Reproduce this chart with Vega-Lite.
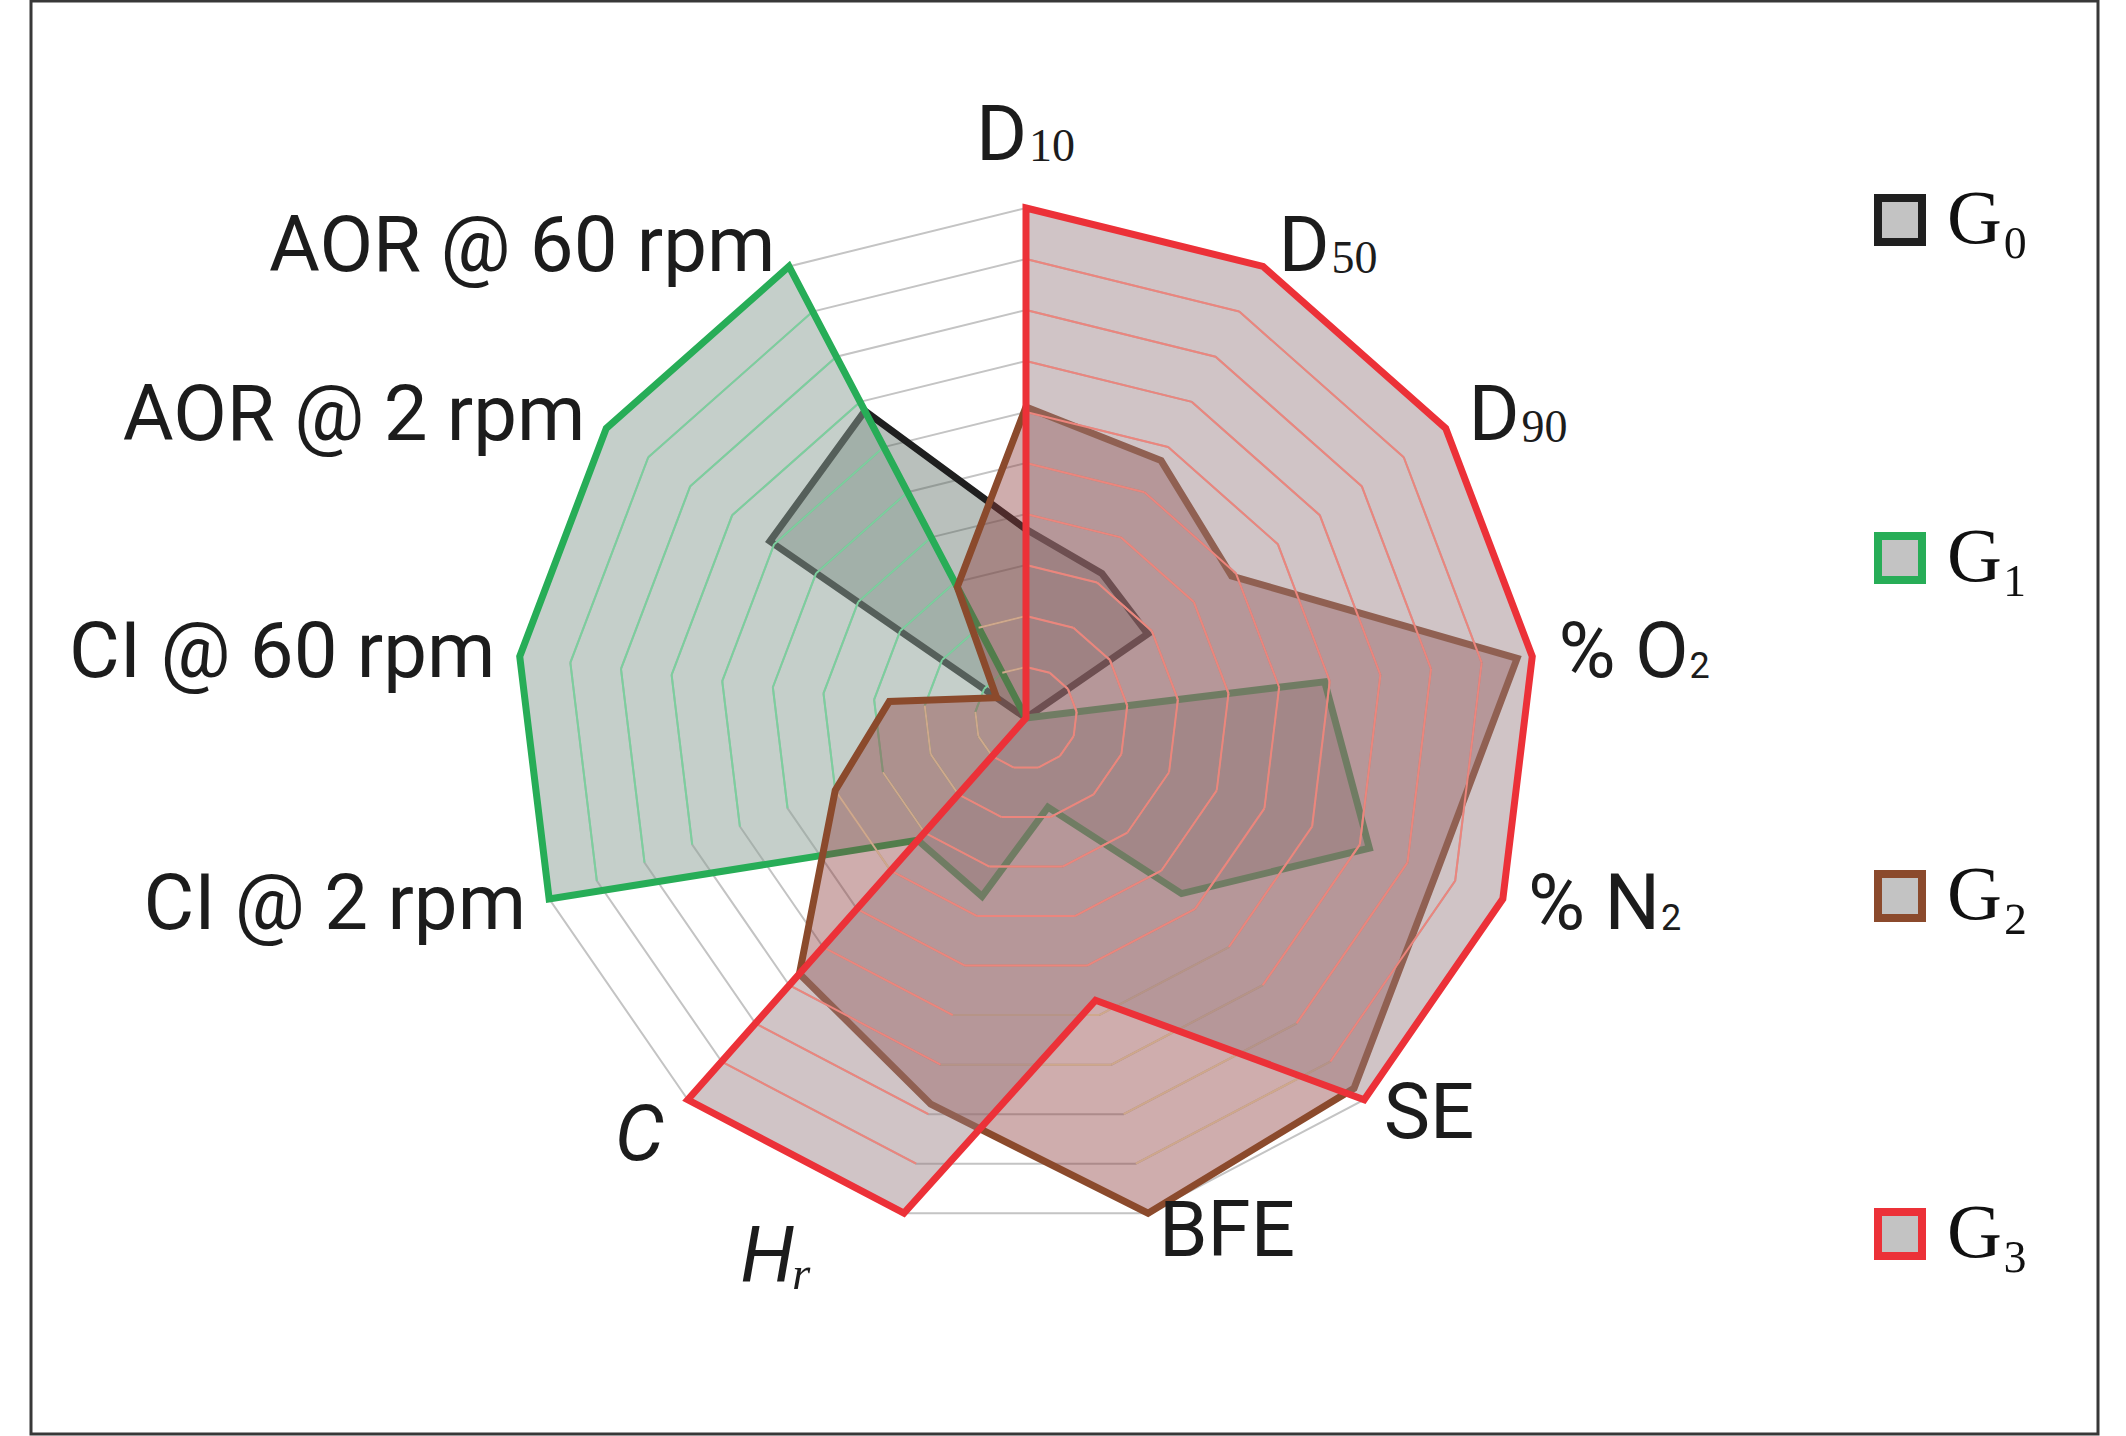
{
  "$schema": "https://vega.github.io/schema/vega-lite/v6.json",
  "width": 2067,
  "height": 1433,
  "autosize": {"type": "none"},
  "padding": {"left": 31, "top": 1, "right": 28, "bottom": 2},
  "background": "white",
  "config": {
    "view": {"stroke": "#383838", "strokeWidth": 3},
    "text": {"font": "Roboto", "fontSize": 78, "color": "#1c1c1c"}
  },
  "datasets": {
    "series": [
      {"g": "G₀", "s": 0, "k": 0, "v": 0.37}, {"g": "G₀", "s": 0, "k": 1, "v": 0.32}, {"g": "G₀", "s": 0, "k": 2, "v": 0.29},
      {"g": "G₀", "s": 0, "k": 3, "v": 0}, {"g": "G₀", "s": 0, "k": 4, "v": 0}, {"g": "G₀", "s": 0, "k": 5, "v": 0},
      {"g": "G₀", "s": 0, "k": 6, "v": 0}, {"g": "G₀", "s": 0, "k": 7, "v": 0}, {"g": "G₀", "s": 0, "k": 8, "v": 0},
      {"g": "G₀", "s": 0, "k": 9, "v": 0}, {"g": "G₀", "s": 0, "k": 10, "v": 0}, {"g": "G₀", "s": 0, "k": 11, "v": 0.61},
      {"g": "G₀", "s": 0, "k": 12, "v": 0.68},
      {"g": "G₁", "s": 1, "k": 0, "v": 0}, {"g": "G₁", "s": 1, "k": 1, "v": 0}, {"g": "G₁", "s": 1, "k": 2, "v": 0},
      {"g": "G₁", "s": 1, "k": 3, "v": 0.59}, {"g": "G₁", "s": 1, "k": 4, "v": 0.72}, {"g": "G₁", "s": 1, "k": 5, "v": 0.46},
      {"g": "G₁", "s": 1, "k": 6, "v": 0.18}, {"g": "G₁", "s": 1, "k": 7, "v": 0.36}, {"g": "G₁", "s": 1, "k": 8, "v": 0.32},
      {"g": "G₁", "s": 1, "k": 9, "v": 1}, {"g": "G₁", "s": 1, "k": 10, "v": 1}, {"g": "G₁", "s": 1, "k": 11, "v": 1},
      {"g": "G₁", "s": 1, "k": 12, "v": 1},
      {"g": "G₂", "s": 2, "k": 0, "v": 0.61}, {"g": "G₂", "s": 2, "k": 1, "v": 0.57}, {"g": "G₂", "s": 2, "k": 2, "v": 0.49},
      {"g": "G₂", "s": 2, "k": 3, "v": 0.97}, {"g": "G₂", "s": 2, "k": 4, "v": 0.86}, {"g": "G₂", "s": 2, "k": 5, "v": 0.97},
      {"g": "G₂", "s": 2, "k": 6, "v": 1.0}, {"g": "G₂", "s": 2, "k": 7, "v": 0.78}, {"g": "G₂", "s": 2, "k": 8, "v": 0.67},
      {"g": "G₂", "s": 2, "k": 9, "v": 0.40}, {"g": "G₂", "s": 2, "k": 10, "v": 0.27}, {"g": "G₂", "s": 2, "k": 11, "v": 0.07},
      {"g": "G₂", "s": 2, "k": 12, "v": 0.29},
      {"g": "G₃", "s": 3, "k": 0, "v": 1}, {"g": "G₃", "s": 3, "k": 1, "v": 1}, {"g": "G₃", "s": 3, "k": 2, "v": 1},
      {"g": "G₃", "s": 3, "k": 3, "v": 1}, {"g": "G₃", "s": 3, "k": 4, "v": 1}, {"g": "G₃", "s": 3, "k": 5, "v": 1},
      {"g": "G₃", "s": 3, "k": 6, "v": 0.57}, {"g": "G₃", "s": 3, "k": 7, "v": 1}, {"g": "G₃", "s": 3, "k": 8, "v": 1},
      {"g": "G₃", "s": 3, "k": 9, "v": 0}, {"g": "G₃", "s": 3, "k": 10, "v": 0}, {"g": "G₃", "s": 3, "k": 11, "v": 0},
      {"g": "G₃", "s": 3, "k": 12, "v": 0}
    ],
    "axes": [
      {"k": 0, "main": "D", "sub": "10"}, {"k": 1, "main": "D", "sub": "50"}, {"k": 2, "main": "D", "sub": "90"},
      {"k": 3, "main": "% O", "sub": "2"}, {"k": 4, "main": "% N", "sub": "2"}, {"k": 5, "main": "SE", "sub": ""},
      {"k": 6, "main": "BFE", "sub": ""}, {"k": 7, "main": "Hᵣ", "sub": ""}, {"k": 8, "main": "C", "sub": ""},
      {"k": 9, "main": "CI @ 2 rpm", "sub": ""}, {"k": 10, "main": "CI @ 60 rpm", "sub": ""},
      {"k": 11, "main": "AOR @ 2 rpm", "sub": ""}, {"k": 12, "main": "AOR @ 60 rpm", "sub": ""}
    ],
    "rings": [
      {"id": 1, "levels": [0.1, 0.2, 0.3, 0.4, 0.5, 0.6, 0.7, 0.8, 0.9, 1.0], "ks": [0, 1, 2, 3, 4, 5, 6, 7, 8, 9, 10, 11, 12]}
    ]
  },
  "encoding": {
    "x": {"field": "x", "type": "quantitative", "scale": {"domain": [-1.951, 2.102], "nice": false, "zero": false}, "axis": null},
    "y": {"field": "y", "type": "quantitative", "scale": {"domain": [-1.40392, 1.40588], "nice": false, "zero": false}, "axis": null}
  },
  "layer": [
    {
      "data": {"name": "rings"},
      "transform": [
        {"flatten": ["levels"]},
        {"flatten": ["ks"]},
        {"calculate": "datum.levels * sin(datum.ks * 2 * PI / 13)", "as": "x"},
        {"calculate": "datum.levels * cos(datum.ks * 2 * PI / 13)", "as": "y"}
      ],
      "mark": {"type": "line", "interpolate": "linear-closed", "stroke": "#c4c4c4", "strokeWidth": 2},
      "encoding": {
        "detail": {"field": "levels", "type": "nominal"},
        "order": {"field": "ks", "type": "quantitative"}
      }
    },
    {
      "data": {"name": "series"},
      "transform": [
        {"filter": "datum.s == 0"},
        {"calculate": "datum.v * sin(datum.k * 2 * PI / 13)", "as": "x"},
        {"calculate": "datum.v * cos(datum.k * 2 * PI / 13)", "as": "y"}
      ],
      "mark": {"type": "line", "interpolate": "linear-closed", "fill": "#4f6157", "fillOpacity": 0.4, "stroke": "transparent", "strokeWidth": 0},
      "encoding": {"order": {"field": "k", "type": "quantitative"}}
    },
    {
      "data": {"name": "series"},
      "transform": [
        {"filter": "datum.s == 0"},
        {"calculate": "datum.v * sin(datum.k * 2 * PI / 13)", "as": "x"},
        {"calculate": "datum.v * cos(datum.k * 2 * PI / 13)", "as": "y"}
      ],
      "mark": {"type": "line", "interpolate": "linear-closed", "strokeWidth": 7, "strokeJoin": "miter"},
      "encoding": {
        "order": {"field": "k", "type": "quantitative"},
        "stroke": {
          "field": "g", "type": "nominal",
          "scale": {"domain": ["G₀", "G₁", "G₂", "G₃"], "range": ["#1f1f1f", "#27ad57", "#8b4a2c", "#ec3138"]},
          "legend": {
            "orient": "none", "legendX": 1831, "legendY": 181, "direction": "vertical", "title": null,
            "symbolType": "square", "symbolSize": 1936, "symbolStrokeWidth": 8, "symbolFillColor": "#c3c3c3",
            "labelFont": "Liberation Serif", "labelFontSize": 76, "labelColor": "#111111",
            "rowPadding": 262, "labelOffset": 9,
            "encode": {"symbols": {"enter": {"fill": {"value": "#c3c3c3"}, "fillOpacity": {"value": 1}}, "update": {"fill": {"value": "#c3c3c3"}, "fillOpacity": {"value": 1}, "strokeWidth": {"value": 8}}}}
          }
        }
      }
    },
    {
      "data": {"name": "series"},
      "transform": [
        {"filter": "datum.s == 1"},
        {"calculate": "datum.v * sin(datum.k * 2 * PI / 13)", "as": "x"},
        {"calculate": "datum.v * cos(datum.k * 2 * PI / 13)", "as": "y"}
      ],
      "mark": {"type": "line", "interpolate": "linear-closed", "fill": "#8ca096", "fillOpacity": 0.5, "stroke": "transparent", "strokeWidth": 0},
      "encoding": {"order": {"field": "k", "type": "quantitative"}}
    },
    {
      "data": {"name": "series"},
      "transform": [
        {"window": [{"op": "lead", "field": "v", "as": "vn"}, {"op": "first_value", "field": "v", "as": "v0"}], "groupby": ["s"], "sort": [{"field": "k", "order": "ascending"}], "frame": [null, null]},
        {"filter": "datum.s == 1"},
        {"calculate": "min(datum.v, datum.vn == null ? datum.v0 : datum.vn)", "as": "m"},
        {"calculate": "1", "as": "one"},
        {"lookup": "one", "from": {"data": {"name": "rings"}, "key": "id", "fields": ["levels"]}},
        {"flatten": ["levels"]},
        {"filter": "datum.levels <= datum.m + 0.001"},
        {"calculate": "datum.levels * sin(datum.k * 2 * PI / 13)", "as": "x"},
        {"calculate": "datum.levels * cos(datum.k * 2 * PI / 13)", "as": "y"},
        {"calculate": "datum.levels * sin((datum.k + 1) * 2 * PI / 13)", "as": "x2"},
        {"calculate": "datum.levels * cos((datum.k + 1) * 2 * PI / 13)", "as": "y2"}
      ],
      "mark": {"type": "rule", "stroke": "#7ccf9e", "strokeWidth": 2},
      "encoding": {"x2": {"field": "x2"}, "y2": {"field": "y2"}}
    },
    {
      "data": {"name": "series"},
      "transform": [
        {"filter": "datum.s == 1"},
        {"calculate": "datum.v * sin(datum.k * 2 * PI / 13)", "as": "x"},
        {"calculate": "datum.v * cos(datum.k * 2 * PI / 13)", "as": "y"}
      ],
      "mark": {"type": "line", "interpolate": "linear-closed", "strokeWidth": 7, "strokeJoin": "miter"},
      "encoding": {
        "order": {"field": "k", "type": "quantitative"},
        "stroke": {"field": "g", "type": "nominal"}
      }
    },
    {
      "data": {"name": "series"},
      "transform": [
        {"filter": "datum.s == 2"},
        {"calculate": "datum.v * sin(datum.k * 2 * PI / 13)", "as": "x"},
        {"calculate": "datum.v * cos(datum.k * 2 * PI / 13)", "as": "y"}
      ],
      "mark": {"type": "line", "interpolate": "linear-closed", "fill": "#8c3c3c", "fillOpacity": 0.42, "stroke": "transparent", "strokeWidth": 0},
      "encoding": {"order": {"field": "k", "type": "quantitative"}}
    },
    {
      "data": {"name": "series"},
      "transform": [
        {"window": [{"op": "lead", "field": "v", "as": "vn"}, {"op": "first_value", "field": "v", "as": "v0"}], "groupby": ["s"], "sort": [{"field": "k", "order": "ascending"}], "frame": [null, null]},
        {"filter": "datum.s == 2"},
        {"calculate": "min(datum.v, datum.vn == null ? datum.v0 : datum.vn)", "as": "m"},
        {"calculate": "1", "as": "one"},
        {"lookup": "one", "from": {"data": {"name": "rings"}, "key": "id", "fields": ["levels"]}},
        {"flatten": ["levels"]},
        {"filter": "datum.levels <= datum.m + 0.001"},
        {"calculate": "datum.levels * sin(datum.k * 2 * PI / 13)", "as": "x"},
        {"calculate": "datum.levels * cos(datum.k * 2 * PI / 13)", "as": "y"},
        {"calculate": "datum.levels * sin((datum.k + 1) * 2 * PI / 13)", "as": "x2"},
        {"calculate": "datum.levels * cos((datum.k + 1) * 2 * PI / 13)", "as": "y2"}
      ],
      "mark": {"type": "rule", "stroke": "#cfa88c", "strokeWidth": 2},
      "encoding": {"x2": {"field": "x2"}, "y2": {"field": "y2"}}
    },
    {
      "data": {"name": "series"},
      "transform": [
        {"filter": "datum.s == 2"},
        {"calculate": "datum.v * sin(datum.k * 2 * PI / 13)", "as": "x"},
        {"calculate": "datum.v * cos(datum.k * 2 * PI / 13)", "as": "y"}
      ],
      "mark": {"type": "line", "interpolate": "linear-closed", "strokeWidth": 7, "strokeJoin": "miter"},
      "encoding": {
        "order": {"field": "k", "type": "quantitative"},
        "stroke": {"field": "g", "type": "nominal"}
      }
    },
    {
      "data": {"name": "series"},
      "transform": [
        {"filter": "datum.s == 3"},
        {"calculate": "datum.v * sin(datum.k * 2 * PI / 13)", "as": "x"},
        {"calculate": "datum.v * cos(datum.k * 2 * PI / 13)", "as": "y"}
      ],
      "mark": {"type": "line", "interpolate": "linear-closed", "fill": "#967d80", "fillOpacity": 0.45, "stroke": "transparent", "strokeWidth": 0},
      "encoding": {"order": {"field": "k", "type": "quantitative"}}
    },
    {
      "data": {"name": "series"},
      "transform": [
        {"window": [{"op": "lead", "field": "v", "as": "vn"}, {"op": "first_value", "field": "v", "as": "v0"}], "groupby": ["s"], "sort": [{"field": "k", "order": "ascending"}], "frame": [null, null]},
        {"filter": "datum.s == 3"},
        {"calculate": "min(datum.v, datum.vn == null ? datum.v0 : datum.vn)", "as": "m"},
        {"calculate": "1", "as": "one"},
        {"lookup": "one", "from": {"data": {"name": "rings"}, "key": "id", "fields": ["levels"]}},
        {"flatten": ["levels"]},
        {"filter": "datum.levels <= datum.m + 0.001"},
        {"calculate": "datum.levels * sin(datum.k * 2 * PI / 13)", "as": "x"},
        {"calculate": "datum.levels * cos(datum.k * 2 * PI / 13)", "as": "y"},
        {"calculate": "datum.levels * sin((datum.k + 1) * 2 * PI / 13)", "as": "x2"},
        {"calculate": "datum.levels * cos((datum.k + 1) * 2 * PI / 13)", "as": "y2"}
      ],
      "mark": {"type": "rule", "stroke": "#ec857d", "strokeWidth": 2},
      "encoding": {"x2": {"field": "x2"}, "y2": {"field": "y2"}}
    },
    {
      "data": {"name": "series"},
      "transform": [
        {"filter": "datum.s == 3"},
        {"calculate": "datum.v * sin(datum.k * 2 * PI / 13)", "as": "x"},
        {"calculate": "datum.v * cos(datum.k * 2 * PI / 13)", "as": "y"}
      ],
      "mark": {"type": "line", "interpolate": "linear-closed", "strokeWidth": 7, "strokeJoin": "miter"},
      "encoding": {
        "order": {"field": "k", "type": "quantitative"},
        "stroke": {"field": "g", "type": "nominal"}
      }
    },
    {
      "data": {"name": "axes"},
      "transform": [
        {"filter": "datum.k >= 1 && datum.k <= 6"},
        {"calculate": "1.04 * sin(datum.k * 2 * PI / 13)", "as": "x"},
        {"calculate": "1.04 * cos(datum.k * 2 * PI / 13)", "as": "y"}
      ],
      "mark": {"type": "text", "align": "left", "baseline": "middle", "dx": 6},
      "encoding": {"text": {"field": "main"}}
    },
    {
      "data": {"name": "axes"},
      "transform": [
        {"filter": "datum.k == 1 || datum.k == 2"},
        {"calculate": "1.04 * sin(datum.k * 2 * PI / 13)", "as": "x"},
        {"calculate": "1.04 * cos(datum.k * 2 * PI / 13)", "as": "y"}
      ],
      "mark": {"type": "text", "align": "left", "baseline": "alphabetic", "dx": 59, "dy": 25, "font": "Liberation Serif", "fontSize": 46},
      "encoding": {"text": {"field": "sub"}}
    },
    {
      "data": {"name": "axes"},
      "transform": [
        {"filter": "datum.k == 3"},
        {"calculate": "1.04 * sin(datum.k * 2 * PI / 13)", "as": "x"},
        {"calculate": "1.04 * cos(datum.k * 2 * PI / 13)", "as": "y"}
      ],
      "mark": {"type": "text", "align": "left", "baseline": "alphabetic", "dx": 137, "dy": 24, "fontSize": 36},
      "encoding": {"text": {"field": "sub"}}
    },
    {
      "data": {"name": "axes"},
      "transform": [
        {"filter": "datum.k == 4"},
        {"calculate": "1.04 * sin(datum.k * 2 * PI / 13)", "as": "x"},
        {"calculate": "1.04 * cos(datum.k * 2 * PI / 13)", "as": "y"}
      ],
      "mark": {"type": "text", "align": "left", "baseline": "alphabetic", "dx": 139, "dy": 24, "fontSize": 36},
      "encoding": {"text": {"field": "sub"}}
    },
    {
      "data": {"name": "axes"},
      "transform": [
        {"filter": "datum.k >= 9"},
        {"calculate": "1.04 * sin(datum.k * 2 * PI / 13)", "as": "x"},
        {"calculate": "1.04 * cos(datum.k * 2 * PI / 13)", "as": "y"}
      ],
      "mark": {"type": "text", "align": "right", "baseline": "middle", "dx": -4},
      "encoding": {"text": {"field": "main"}}
    },
    {
      "data": {"name": "axes"},
      "transform": [
        {"filter": "datum.k == 0"},
        {"calculate": "1.04 * sin(datum.k * 2 * PI / 13)", "as": "x"},
        {"calculate": "1.04 * cos(datum.k * 2 * PI / 13)", "as": "y"}
      ],
      "mark": {"type": "text", "align": "left", "baseline": "alphabetic", "dx": -50, "dy": -28},
      "encoding": {"text": {"field": "main"}}
    },
    {
      "data": {"name": "axes"},
      "transform": [
        {"filter": "datum.k == 0"},
        {"calculate": "1.04 * sin(datum.k * 2 * PI / 13)", "as": "x"},
        {"calculate": "1.04 * cos(datum.k * 2 * PI / 13)", "as": "y"}
      ],
      "mark": {"type": "text", "align": "left", "baseline": "alphabetic", "dx": 3, "dy": -27, "font": "Liberation Serif", "fontSize": 46},
      "encoding": {"text": {"field": "sub"}}
    },
    {
      "data": {"name": "axes"},
      "transform": [
        {"filter": "datum.k == 8"},
        {"calculate": "1.04 * sin(datum.k * 2 * PI / 13)", "as": "x"},
        {"calculate": "1.04 * cos(datum.k * 2 * PI / 13)", "as": "y"}
      ],
      "mark": {"type": "text", "align": "center", "baseline": "middle", "dx": -35, "dy": 22, "fontStyle": "italic"},
      "encoding": {"text": {"field": "main"}}
    },
    {
      "data": {"name": "axes"},
      "transform": [
        {"filter": "datum.k == 7"},
        {"calculate": "1.04 * sin(datum.k * 2 * PI / 13)", "as": "x"},
        {"calculate": "1.04 * cos(datum.k * 2 * PI / 13)", "as": "y"}
      ],
      "mark": {"type": "text", "align": "center", "baseline": "middle", "dx": -122, "dy": 26, "fontStyle": "italic"},
      "encoding": {"text": {"field": "main"}}
    }
  ]
}
